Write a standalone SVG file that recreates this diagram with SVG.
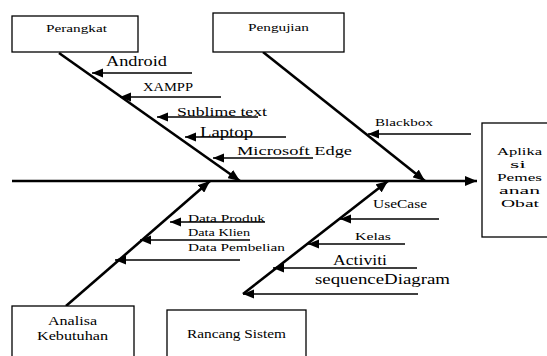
<svg xmlns="http://www.w3.org/2000/svg" width="547" height="356" viewBox="0 0 547 356">
<style>
.box{fill:#fff;stroke:#000;stroke-width:1.3}
.bone{stroke:#000;stroke-width:2.6;fill:none}
.sub{stroke:#000;stroke-width:1.4;fill:none}
text{font-family:"Liberation Serif","Times New Roman",serif;fill:#000}
</style>
<defs>
<marker id="ah" markerUnits="userSpaceOnUse" markerWidth="14" markerHeight="10" refX="12" refY="5" orient="auto">
<path d="M0,0 L12,5 L0,10 Z" fill="#000"/>
</marker>
<marker id="as" markerUnits="userSpaceOnUse" markerWidth="12" markerHeight="10" refX="11" refY="5" orient="auto">
<path d="M0,0.5 L11,5 L0,9.5 Z" fill="#000"/>
</marker>
</defs>
<g id="connectors">
<line class="bone" x1="12" y1="181" x2="477" y2="181" marker-end="url(#ah)"/>
<line class="bone" x1="59" y1="53" x2="240" y2="181" marker-end="url(#ah)"/>
<line class="bone" x1="263" y1="52" x2="425" y2="181" marker-end="url(#ah)"/>
<line class="bone" x1="66" y1="306" x2="210" y2="181" marker-end="url(#ah)"/>
<line class="bone" x1="243" y1="294" x2="388" y2="181" marker-end="url(#ah)"/>
<line class="sub" x1="192" y1="73" x2="92" y2="73" marker-end="url(#as)"/>
<line class="sub" x1="221" y1="97" x2="120" y2="97" marker-end="url(#as)"/>
<line class="sub" x1="258" y1="117" x2="157" y2="117" marker-end="url(#as)"/>
<line class="sub" x1="286" y1="137" x2="185" y2="137" marker-end="url(#as)"/>
<line class="sub" x1="313" y1="158" x2="213" y2="158" marker-end="url(#as)"/>
<line class="sub" x1="471" y1="134" x2="368" y2="134" marker-end="url(#as)"/>
<line class="sub" x1="265" y1="222" x2="170" y2="222" marker-end="url(#as)"/>
<line class="sub" x1="250" y1="240" x2="140" y2="240" marker-end="url(#as)"/>
<line class="sub" x1="240" y1="260" x2="115" y2="260" marker-end="url(#as)"/>
<line class="sub" x1="439" y1="219" x2="340" y2="219" marker-end="url(#as)"/>
<line class="sub" x1="405" y1="244" x2="308" y2="244" marker-end="url(#as)"/>
<line class="sub" x1="417" y1="268" x2="273" y2="268" marker-end="url(#as)"/>
<line class="sub" x1="418" y1="294" x2="243" y2="294" marker-end="url(#as)"/>
</g>
<g id="perangkat">
<rect class="box" x="12" y="16" width="126" height="36"/>
<text x="46" y="32" font-size="10.5" textLength="61" lengthAdjust="spacingAndGlyphs">Perangkat</text>
</g>
<g id="pengujian">
<rect class="box" x="213" y="13" width="131" height="39"/>
<text x="248" y="31" font-size="10.5" textLength="61" lengthAdjust="spacingAndGlyphs">Pengujian</text>
</g>
<g id="aplikasi">
<rect class="box" x="482" y="123" width="70" height="114"/>
<text x="497" y="155" font-size="10.5" textLength="45" lengthAdjust="spacingAndGlyphs">Aplika</text>
<text x="510" y="168" font-size="10.5" textLength="16" lengthAdjust="spacingAndGlyphs">si</text>
<text x="497" y="181" font-size="10.5" textLength="45" lengthAdjust="spacingAndGlyphs">Pemes</text>
<text x="499" y="194" font-size="10.5" textLength="41" lengthAdjust="spacingAndGlyphs">anan</text>
<text x="501" y="207" font-size="10.5" textLength="38" lengthAdjust="spacingAndGlyphs">Obat</text>
</g>
<g id="analisa">
<rect class="box" x="12" y="306" width="122" height="55"/>
<text x="48" y="325" font-size="12" textLength="49" lengthAdjust="spacingAndGlyphs">Analisa</text>
<text x="37" y="340" font-size="12" textLength="71" lengthAdjust="spacingAndGlyphs">Kebutuhan</text>
</g>
<g id="rancang">
<rect class="box" x="167" y="310" width="139" height="51"/>
<text x="187" y="338" font-size="12" textLength="99" lengthAdjust="spacingAndGlyphs">Rancang Sistem</text>
</g>
<g id="labels">
<text x="106" y="66" font-size="14" textLength="61" lengthAdjust="spacingAndGlyphs">Android</text>
<text x="143" y="91" font-size="11.5" textLength="50" lengthAdjust="spacingAndGlyphs">XAMPP</text>
<text x="177" y="116" font-size="13" textLength="90" lengthAdjust="spacingAndGlyphs">Sublime text</text>
<text x="200" y="137" font-size="14" textLength="53" lengthAdjust="spacingAndGlyphs">Laptop</text>
<text x="237" y="155" font-size="13" textLength="115" lengthAdjust="spacingAndGlyphs">Microsoft Edge</text>
<text x="375" y="126" font-size="11" textLength="58" lengthAdjust="spacingAndGlyphs">Blackbox</text>
<text x="188" y="222" font-size="11" textLength="77" lengthAdjust="spacingAndGlyphs">Data Produk</text>
<text x="188" y="236" font-size="11" textLength="62" lengthAdjust="spacingAndGlyphs">Data Klien</text>
<text x="188" y="251" font-size="11" textLength="97" lengthAdjust="spacingAndGlyphs">Data Pembelian</text>
<text x="373" y="208" font-size="11.5" textLength="54" lengthAdjust="spacingAndGlyphs">UseCase</text>
<text x="355" y="240" font-size="11" textLength="36" lengthAdjust="spacingAndGlyphs">Kelas</text>
<text x="333" y="265" font-size="14" textLength="54" lengthAdjust="spacingAndGlyphs">Activiti</text>
<text x="315" y="284" font-size="14" textLength="135" lengthAdjust="spacingAndGlyphs">sequenceDiagram</text>
</g>
</svg>
